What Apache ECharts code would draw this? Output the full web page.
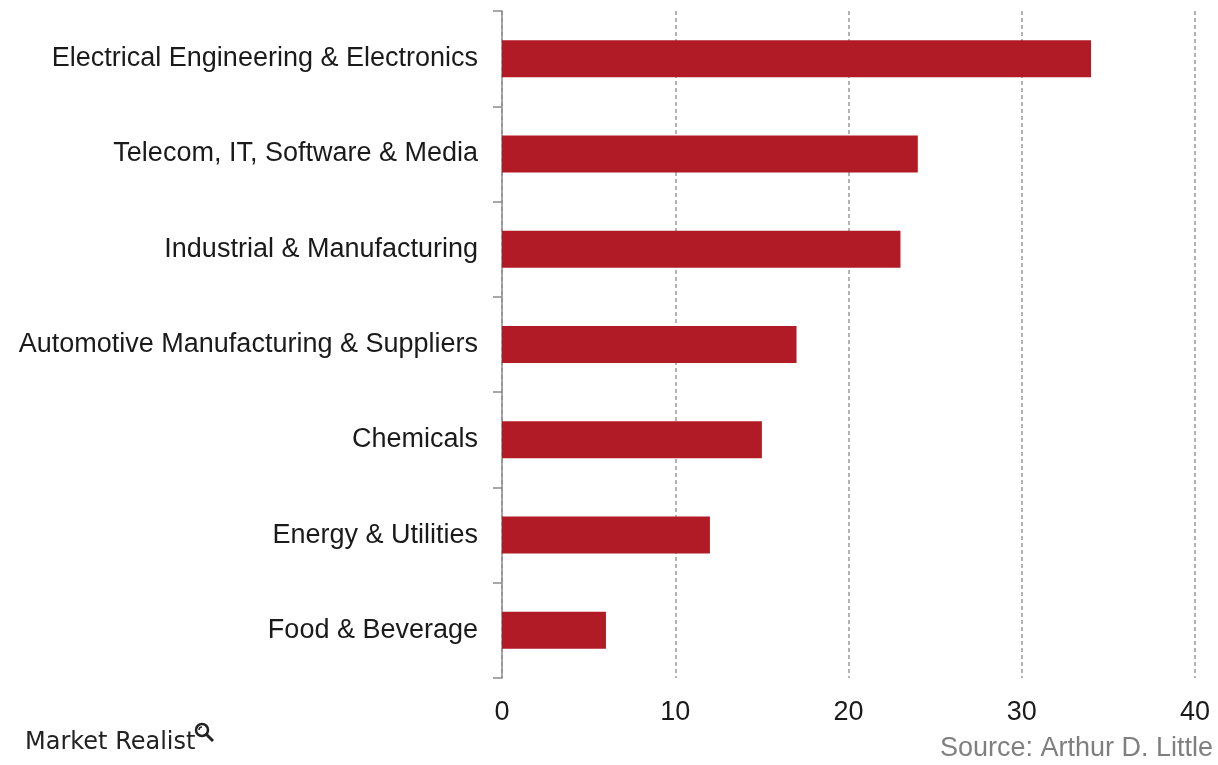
<!DOCTYPE html>
<html>
<head>
<meta charset="utf-8">
<script src="https://cdn.jsdelivr.net/npm/echarts@6/dist/echarts.min.js"></script>
<style>html,body{margin:0;padding:0;background:#fff;}#c{width:1218px;height:765px;}</style>
</head>
<body>
<div id="c"></div>
<script>
const categories = [
  "Electrical Engineering & Electronics",
  "Telecom, IT, Software & Media",
  "Industrial & Manufacturing",
  "Automotive Manufacturing & Suppliers",
  "Chemicals",
  "Energy & Utilities",
  "Food & Beverage"
];
const values = [34, 24, 23, 17, 15, 12, 6];
const xTicks = [0, 10, 20, 30, 40];

const chart = echarts.init(document.getElementById('c'), null, {renderer: 'canvas'});
const font = "'Liberation Sans', Arial, sans-serif";
chart.setOption({
  backgroundColor: '#ffffff',
  animation: false,
  textStyle: {fontFamily: font},
  grid: {left: 502, right: 23, top: 11, bottom: 87, containLabel: false},
  xAxis: {
    type: 'value',
    min: xTicks[0],
    max: xTicks[xTicks.length - 1],
    interval: 10,
    axisLine: {show: false},
    axisTick: {show: false},
    axisLabel: {color: '#1a1a1a', fontSize: 27, margin: 21, fontFamily: font},
    splitLine: {show: true, lineStyle: {color: '#9a9a9a', type: [4, 3], width: 1.5}}
  },
  yAxis: {
    type: 'category',
    data: categories,
    inverse: true,
    axisLine: {show: true, lineStyle: {color: '#8c8c8c', width: 1.5}},
    axisTick: {show: true, length: 9, lineStyle: {color: '#8c8c8c', width: 1.5}},
    axisLabel: {color: '#1a1a1a', fontSize: 27, margin: 24, fontFamily: font}
  },
  series: [{
    type: 'bar',
    data: values,
    barWidth: 37,
    itemStyle: {color: '#B11B25'}
  }],
  graphic: [
    {type: 'text', left: 25, top: 731, style: {text: 'Market Realist', fontSize: 24, fill: '#222', fontFamily: "'DejaVu Sans', sans-serif", fontWeight: 'normal'}},
    {type: 'circle', shape: {cx: 202, cy: 730, r: 6}, style: {fill: 'none', stroke: '#222', lineWidth: 2.5}},
    {type: 'line', shape: {x1: 206.5, y1: 734.5, x2: 213, y2: 741}, style: {stroke: '#222', lineWidth: 3}},
    {type: 'arc', shape: {cx: 202, cy: 730, r: 3, startAngle: Math.PI, endAngle: Math.PI * 1.5}, style: {stroke: '#222', lineWidth: 1.5, fill: 'none'}},
    {type: 'text', right: 5, top: 735, style: {text: 'Source: Arthur D. Little', fontSize: 27, fill: '#7f7f7f', fontFamily: font}}
  ]
});
</script>
</body>
</html>
